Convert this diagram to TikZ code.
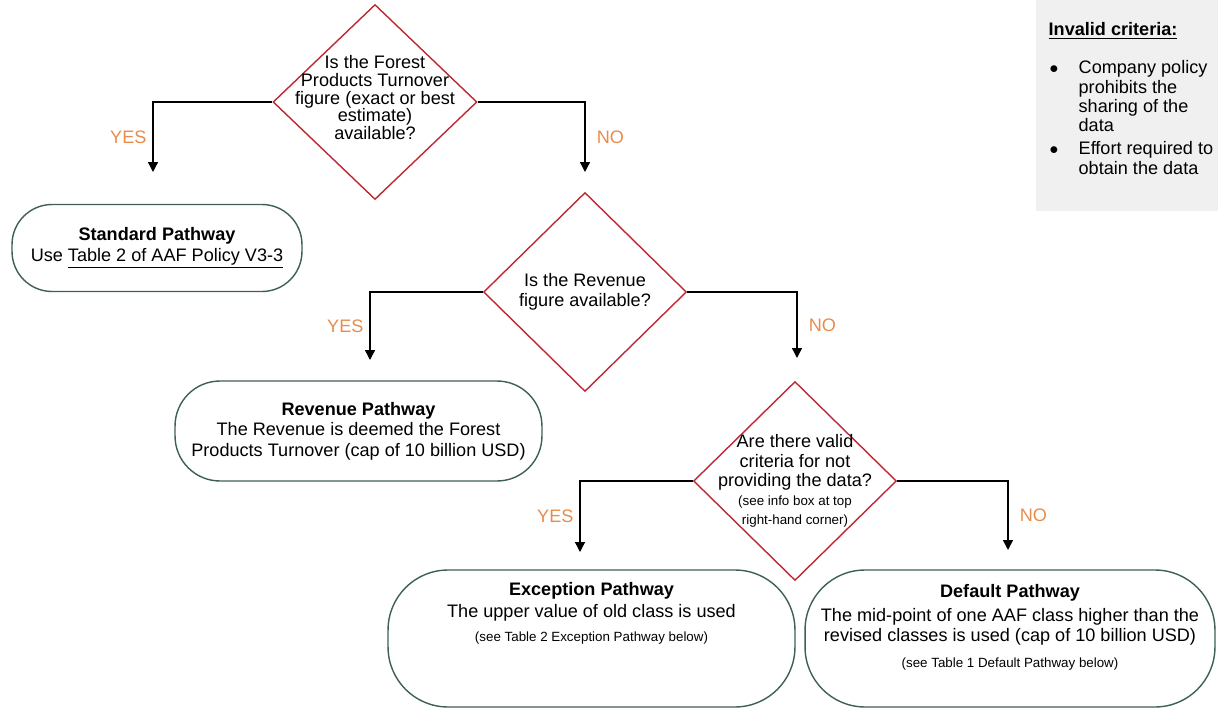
\documentclass[tikz,border=0pt]{standalone}
\usepackage{fontspec}
\setmainfont{Liberation Sans}
\definecolor{FlowRed}{RGB}{190, 40, 50}
\definecolor{PathGreen}{RGB}{62, 95, 85}
\definecolor{AnsOrange}{RGB}{232, 140, 75}
\definecolor{InfoGray}{RGB}{240, 240, 240}
\usetikzlibrary{arrows.meta, positioning, shapes, calc}
\newcommand{\notesize}{\fontsize{7.6}{9}\selectfont}

\begin{document}
\begin{tikzpicture}[
    x=0.02cm, y=-0.02cm,
    question/.style={diamond, draw=FlowRed, thick, fill=white, minimum width=4.06cm,
                     minimum height=3.98cm, inner sep=0pt},
    qtext/.style={align=center, inner sep=0pt, font=\fontsize{10.3}{10.6}\selectfont},
    pathway/.style={rectangle, draw=PathGreen, thick, inner xsep=2pt, align=center,
                    font=\fontsize{10.3}{11.6}\selectfont},
    infobox/.style={rectangle, fill=InfoGray, inner sep=0.26cm, align=left,
                    font=\fontsize{10.3}{11}\selectfont},
    arrow/.style={-{Triangle[length=2mm, width=2mm]}, line width=0.8pt, black},
    answer/.style={text=AnsOrange, font=\fontsize{10.3}{12}\selectfont}
]
    \useasboundingbox (0,0) rectangle (1218,710);

    % questions
    \node[question, minimum width=4.08cm, minimum height=3.9cm,
          label={[qtext, font=\fontsize{10.3}{10}\selectfont, yshift=2.5pt]center:{Is the Forest\\
                 Products Turnover\\ figure (exact or best\\ estimate)\\ available?}}]
        (forest) at (375,102) {};
    \node[question,
          label={[qtext, font=\fontsize{10.3}{11.3}\selectfont]center:{Is the Revenue\\
                 figure available?}}] (revenue) at (585,292) {};
    \node[question,
          label={[qtext, font=\fontsize{10.3}{10.9}\selectfont]center:{Are there valid\\
                 criteria for not\\ providing the data?\\ \notesize (see info box at top\\
                 \notesize right-hand corner)}}] (criteria) at (795,481) {};

    % pathways
    \node[pathway, minimum width=5.8cm, minimum height=1.74cm, rounded corners=0.8cm]
        (standard) at (157,248)
        {\textbf{Standard Pathway}\\ Use \underline{Table 2 of AAF Policy V3-3}};
    \node[pathway, minimum width=7.34cm, minimum height=2cm, rounded corners=0.9cm]
        (revpath) at (358.5,431)
        {\textbf{Revenue Pathway}\\ The Revenue is deemed the Forest\\ Products Turnover (cap of 10 billion USD)};
    \node[pathway, minimum width=8.14cm, minimum height=2.74cm, rounded corners=1.2cm,
          text depth=1.08cm] (exception) at (591.5,638.5)
        {\textbf{Exception Pathway}\\[1pt] The upper value of old class is used\\[2pt]
         \notesize (see Table 2 Exception Pathway below)};
    \node[pathway, minimum width=8.2cm, minimum height=2.74cm, rounded corners=1.2cm,
          text depth=0.5cm] (default) at (1010,638.5)
        {\textbf{Default Pathway}\\[2pt] The mid-point of one AAF class higher than the\\
         revised classes is used (cap of 10 billion USD)\\[3pt]
         \notesize (see Table 1 Default Pathway below)};

    % info box
    \node[infobox, anchor=north east] (invalid) at (1218,0)
        {\parbox[c][3.7cm][t]{3.12cm}{\vspace*{5pt}\textbf{\underline{Invalid criteria:}}\par\vspace{11pt}
         \begin{tabular}[t]{@{}p{0.6cm}@{}l@{}}
         \hspace{0.02cm}$\bullet$ & Company policy\\
          & prohibits the\\
          & sharing of the\\
          & data\\[2pt]
         \hspace{0.02cm}$\bullet$ & Effort required to\\
          & obtain the data
         \end{tabular}}};

    % connectors
    \coordinate (standard-in) at (153,172);
    \coordinate (revenue-in) at (585,172);
    \coordinate (revpath-in) at (370,360);
    \coordinate (criteria-in) at (797,358);
    \coordinate (exception-in) at (580,552);
    \coordinate (default-in) at (1008,550);

    \draw[arrow] (forest.west) -| node[answer, pos=0.75, left] {YES} (standard-in);
    \draw[arrow] (forest.east) -| node[answer, pos=0.75, right, xshift=3pt] {NO} (revenue-in);
    \draw[arrow] (revenue.west) -| node[answer, pos=0.75, left] {YES} (revpath-in);
    \draw[arrow] (revenue.east) -| node[answer, pos=0.75, right, xshift=3pt] {NO} (criteria-in);
    \draw[arrow] (criteria.west) -| node[answer, pos=0.75, left] {YES} (exception-in);
    \draw[arrow] (criteria.east) -| node[answer, pos=0.75, right, xshift=3pt] {NO} (default-in);
\end{tikzpicture}
\end{document}
